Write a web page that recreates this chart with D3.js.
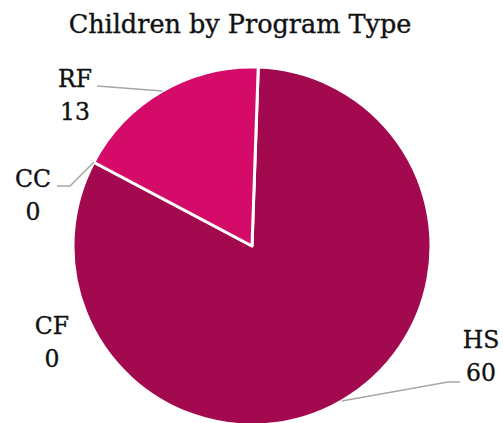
<!DOCTYPE html>
<html>
<head>
<meta charset="utf-8">
<script src="https://cdn.jsdelivr.net/npm/d3@7/dist/d3.min.js"></script>
<style>
  body { margin: 0; background: #fff; }
  text { font-family: "DejaVu Serif", serif; fill: #111; stroke: #111; stroke-width: 0.35px; }
</style>
</head>
<body>
<div id="chart"></div>
<script>
// Data (clockwise from top)
const categories = ["HS", "CF", "CC", "RF"];
const counts = [60, 0, 0, 13];
const colors = ["#A2094E", "#A2094E", "#A2094E", "#D40B69"];

const width = 503, height = 423;
const cx = 252, cy = 246, radius = 179;

const svg = d3.select("#chart")
    .append("svg")
    .attr("width", width)
    .attr("height", height);

// Title
svg.append("text")
    .attr("x", 240)
    .attr("y", 33)
    .attr("text-anchor", "middle")
    .style("font-size", "25.5px")
    .text("Children by Program Type");

const pieData = categories.map((c, i) => ({name: c, value: counts[i], color: colors[i]}));

const pie = d3.pie()
    .sort(null)
    .value(d => d.value)
    .startAngle(2 * Math.PI / 180)
    .endAngle(2 * Math.PI / 180 + 2 * Math.PI);

const arcs = pie(pieData);
const arc = d3.arc().innerRadius(0).outerRadius(radius);

const g = svg.append("g").attr("transform", `translate(${cx},${cy})`);

g.selectAll("path")
    .data(arcs.filter(d => d.value > 0))
    .enter()
    .append("path")
    .attr("d", arc)
    .attr("fill", d => d.data.color)
    .attr("stroke", "#fff")
    .attr("stroke-width", 3)
    .attr("stroke-linejoin", "round");

// Label layout (text centre x, first baseline y, leader line points)
const labelLayout = {
    HS: {x: 481, y: 348, leader: [[448, 382], [460, 382]]},
    CF: {x: 52, y: 334, leader: null},
    CC: {x: 33, y: 187, leader: [[70, 186], [57, 186]]},
    RF: {x: 75, y: 87, leader: [[97, 86]]}
};

arcs.forEach(d => {
    const lay = labelLayout[d.data.name];
    const mid = (d.startAngle + d.endAngle) / 2;
    const ax = cx + radius * Math.sin(mid);
    const ay = cy - radius * Math.cos(mid);

    if (lay.leader) {
        const pts = [[ax, ay]].concat(lay.leader);
        svg.append("polyline")
            .attr("points", pts.map(p => p.join(",")).join(" "))
            .attr("fill", "none")
            .attr("stroke", "#a6a6a6")
            .attr("stroke-width", 1.5);
    }

    const t = svg.append("text")
        .attr("text-anchor", "middle")
        .style("font-size", "23.5px");
    t.append("tspan").attr("x", lay.x).attr("y", lay.y).text(d.data.name);
    t.append("tspan").attr("x", lay.x).attr("y", lay.y + 33).text(d.data.value);
});
</script>
</body>
</html>
